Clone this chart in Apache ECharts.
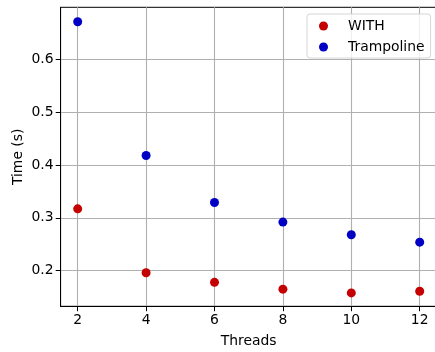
<!DOCTYPE html>
<html>
<head>
<meta charset="utf-8">
<script src="https://cdn.jsdelivr.net/npm/echarts@6/dist/echarts.min.js"></script>
<style>
  html, body { margin: 0; padding: 0; background: #fff; }
  #chart { width: 435px; height: 352px; }
</style>
</head>
<body>
<div id="chart"></div>
<script>
  // values
  var threads = [2, 4, 6, 8, 10, 12];
  var withTimes = [0.317, 0.196, 0.178, 0.165, 0.158, 0.161];
  var trampolineTimes = [0.671, 0.418, 0.329, 0.292, 0.268, 0.254];
  var xTicks = [2, 4, 6, 8, 10, 12];
  var yTicks = [0.2, 0.3, 0.4, 0.5, 0.6];

  function pairs(xs, ys) {
    return xs.map(function (x, i) { return [x, ys[i]]; });
  }

  var font = 'DejaVu Sans';
  var chart = echarts.init(document.getElementById('chart'));
  var option = {
    animation: false,
    backgroundColor: '#fff',
    textStyle: { fontFamily: font },
    grid: {
      // plot runs slightly past the right edge of the picture
      left: 60.6, width: 376.2, top: 7.3, height: 299,
      outerBoundsMode: 'none',
      show: true, borderColor: '#000', borderWidth: 1, backgroundColor: 'transparent'
    },
    legend: {
      orient: 'vertical',
      left: 307, top: 14,
      padding: [5, 6, 4, 12],
      itemGap: 7,
      itemWidth: 9, itemHeight: 9,
      borderColor: '#d6d6d6', borderWidth: 1, borderRadius: 3,
      backgroundColor: 'rgba(255,255,255,0.8)',
      textStyle: { fontFamily: font, fontSize: 13.9, color: '#000', padding: [0, 0, 0, 15] },
      data: [
        { name: 'WITH', icon: 'circle' },
        { name: 'Trampoline', icon: 'circle' }
      ]
    },
    xAxis: {
      type: 'value',
      min: 1.5, max: 12.5,
      name: 'Threads', nameLocation: 'middle', nameGap: 28, nameMoveOverlap: false,
      nameTextStyle: { fontFamily: font, fontSize: 13.9, color: '#000' },
      axisLine: { show: true, onZero: false, lineStyle: { color: '#000', width: 1 } },
      axisTick: { show: true, length: 4.9, customValues: xTicks, lineStyle: { color: '#000', width: 1 } },
      axisLabel: { customValues: xTicks, margin: 7, fontFamily: font, fontSize: 13.9, color: '#000' },
      splitLine: { show: true, lineStyle: { color: '#b0b0b0', width: 1.1 } }
    },
    yAxis: {
      type: 'value',
      min: 0.1326, max: 0.6984,
      name: 'Time (s)', nameLocation: 'middle', nameGap: 35, nameMoveOverlap: false,
      nameTextStyle: { fontFamily: font, fontSize: 13.9, color: '#000' },
      axisLine: { show: true, onZero: false, lineStyle: { color: '#000', width: 1 } },
      axisTick: { show: true, length: 4.9, customValues: yTicks, lineStyle: { color: '#000', width: 1 } },
      axisLabel: { customValues: yTicks, margin: 7, fontFamily: font, fontSize: 13.9, color: '#000',
        formatter: function (v) { return v.toFixed(1); } },
      splitLine: { show: true, lineStyle: { color: '#b0b0b0', width: 1.1 } }
    },
    series: [
      {
        name: 'WITH', type: 'scatter', symbol: 'circle', symbolSize: 9,
        itemStyle: { color: '#c40000', opacity: 1 },
        data: pairs(threads, withTimes)
      },
      {
        name: 'Trampoline', type: 'scatter', symbol: 'circle', symbolSize: 9,
        itemStyle: { color: '#0000c4', opacity: 1 },
        data: pairs(threads, trampolineTimes)
      }
    ]
  };
  chart.setOption(option);
</script>
</body>
</html>
